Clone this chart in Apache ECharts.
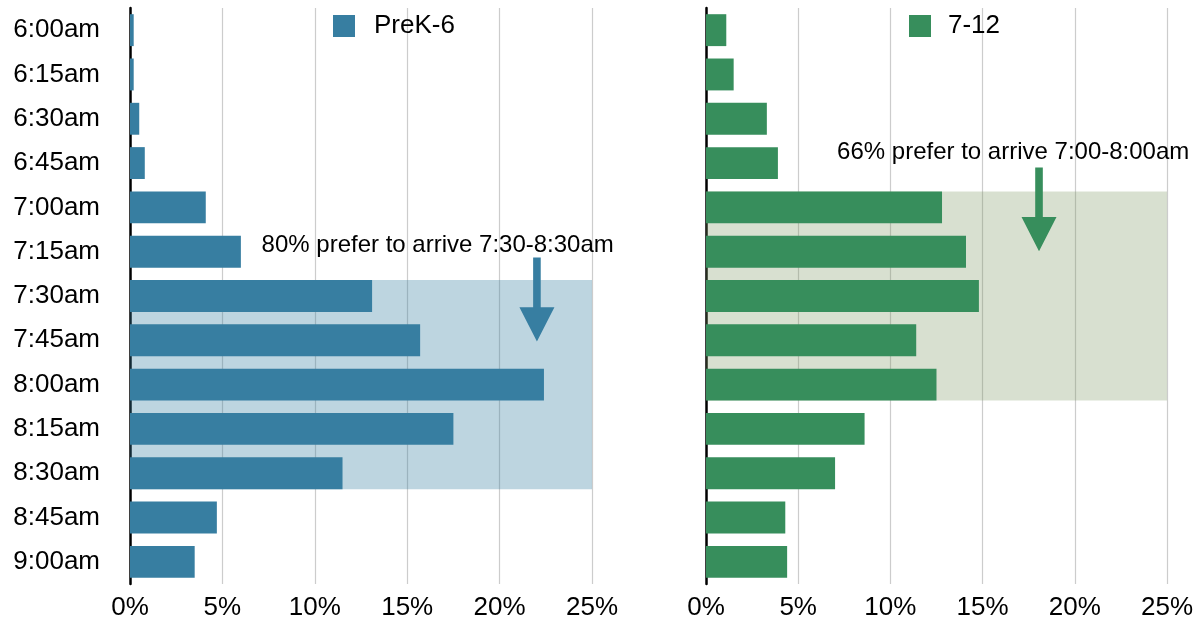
<!DOCTYPE html>
<html>
<head>
<meta charset="utf-8">
<script src="https://cdn.jsdelivr.net/npm/echarts@6/dist/echarts.min.js"></script>
<style>
html,body{margin:0;padding:0;background:#fff;}
#chart{width:1196px;height:621px;}
</style>
</head>
<body>
<div id="chart"></div>
<script>
// ---- data ----
const categories = ['6:00am','6:15am','6:30am','6:45am','7:00am','7:15am','7:30am','7:45am','8:00am','8:15am','8:30am','8:45am','9:00am'];
const prek6 = [0.2, 0.2, 0.5, 0.8, 4.1, 6.0, 13.1, 15.7, 22.4, 17.5, 11.5, 4.7, 3.5];
const grades712 = [1.1, 1.5, 3.3, 3.9, 12.8, 14.1, 14.8, 11.4, 12.5, 8.6, 7.0, 4.3, 4.4];
const seriesNames = ['PreK-6', '7-12'];
const xTicks = [0, 5, 10, 15, 20, 25];
const shadeLeft = ['7:30am', '8:30am'];
const shadeRight = ['7:00am', '8:00am'];
const noteLeft = '80% prefer to arrive 7:30-8:30am';
const noteRight = '66% prefer to arrive 7:00-8:00am';
// annotation anchors in data units:
// [text x value, text y (category index), arrow x value, arrow start, arrow head start, arrow tip]
const noteLeftPos = [16.65, 4.862, 22.02, 5.133, 6.252, 7.025];
const noteRightPos = [16.66, 2.767, 18.06, 3.098, 4.216, 4.991];

const FONT = '"Liberation Sans", Arial, Helvetica, sans-serif';
const BLUE = '#377ea1';
const GREEN = '#378e5c';
const GAP = 0.28;
const xMax = xTicks[xTicks.length - 1];

const chart = echarts.init(document.getElementById('chart'), null, {renderer: 'canvas'});

// category axis coords get rounded for fractional indices -> interpolate via band size
function ypos(api, v) {
  const band = api.size([0, 1])[1];
  return api.coord([0, 0])[1] + v * band;
}

function shadeRender(fill) {
  return function (params, api) {
    const a = api.coord([0, api.value(0)]);
    const b = api.coord([api.value(2), api.value(1)]);
    const band = api.size([0, 1])[1];
    const h = band * (1 - GAP) / 2;
    return {
      type: 'rect',
      shape: {x: a[0], y: a[1] - h, width: b[0] - a[0], height: b[1] - a[1] + 2 * h},
      style: {fill: fill}
    };
  };
}

function noteRender(text, color) {
  return function (params, api) {
    const tx = api.coord([api.value(0), 0])[0];
    const ty = ypos(api, api.value(1));
    const x = api.coord([api.value(2), 0])[0];
    const ys = ypos(api, api.value(3));
    const yh = ypos(api, api.value(4));
    const yt = ypos(api, api.value(5));
    const sw = 3.8, hw = 17.5;
    return {
      type: 'group',
      children: [
        {
          type: 'text',
          style: {text: text, x: tx, y: ty, align: 'center', verticalAlign: 'middle',
                  fontSize: 24, fontFamily: FONT, fill: '#000'}
        },
        {
          type: 'polygon',
          shape: {points: [[x - sw, ys], [x + sw, ys], [x + sw, yh], [x + hw, yh],
                           [x, yt], [x - hw, yh], [x - sw, yh]]},
          style: {fill: color}
        }
      ]
    };
  };
}

function xAxis(gi) {
  return {
    type: 'value', gridIndex: gi, min: 0, max: xMax, interval: 5,
    axisLine: {show: false}, axisTick: {show: false},
    splitLine: {show: true, lineStyle: {color: '#cccccc', width: 1.2}},
    axisLabel: {formatter: '{value}%', fontSize: 26, fontFamily: FONT, color: '#000', margin: 11}
  };
}
function yAxis(gi, showLabels) {
  return {
    type: 'category', gridIndex: gi, data: categories, inverse: true,
    axisLine: {show: true, lineStyle: {color: '#000', width: 2.5}},
    axisTick: {show: false},
    axisLabel: {show: showLabels, fontSize: 26, fontFamily: FONT, color: '#000', margin: 30}
  };
}

const idx = c => categories.indexOf(c);

chart.setOption({
  animation: false,
  backgroundColor: '#fff',
  grid: [
    {left: 130, width: 462, top: 8, height: 577},
    {left: 706, width: 461, top: 8, height: 577}
  ],
  xAxis: [xAxis(0), xAxis(1)],
  yAxis: [yAxis(0, true), yAxis(1, false)],
  legend: [
    {data: [seriesNames[0]], left: 328, top: 8, itemWidth: 22, itemHeight: 22, icon: 'rect',
     textStyle: {fontSize: 26, fontFamily: FONT, color: '#000', padding: [0, 0, 0, 14]}},
    {data: [seriesNames[1]], left: 904, top: 8, itemWidth: 22, itemHeight: 22, icon: 'rect',
     textStyle: {fontSize: 26, fontFamily: FONT, color: '#000', padding: [0, 0, 0, 12]}}
  ],
  series: [
    {type: 'custom', xAxisIndex: 0, yAxisIndex: 0, z: 1, silent: true,
     encode: {x: 2, y: [0, 1]},
     data: [[idx(shadeLeft[0]), idx(shadeLeft[1]), xMax]],
     renderItem: shadeRender('rgba(54,126,162,0.33)')},
    {type: 'custom', xAxisIndex: 1, yAxisIndex: 1, z: 1, silent: true,
     encode: {x: 2, y: [0, 1]},
     data: [[idx(shadeRight[0]), idx(shadeRight[1]), xMax]],
     renderItem: shadeRender('rgba(125,152,98,0.3)')},
    {name: seriesNames[0], type: 'bar', xAxisIndex: 0, yAxisIndex: 0, data: prek6,
     barCategoryGap: '28%', itemStyle: {color: BLUE}, z: 3},
    {name: seriesNames[1], type: 'bar', xAxisIndex: 1, yAxisIndex: 1, data: grades712,
     barCategoryGap: '28%', itemStyle: {color: GREEN}, z: 3},
    {type: 'custom', xAxisIndex: 0, yAxisIndex: 0, z: 5, silent: true, clip: false,
     encode: {x: [0, 2], y: [1, 3, 4, 5]},
     data: [noteLeftPos],
     renderItem: noteRender(noteLeft, BLUE)},
    {type: 'custom', xAxisIndex: 1, yAxisIndex: 1, z: 5, silent: true, clip: false,
     encode: {x: [0, 2], y: [1, 3, 4, 5]},
     data: [noteRightPos],
     renderItem: noteRender(noteRight, GREEN)}
  ]
});
</script>
</body>
</html>
